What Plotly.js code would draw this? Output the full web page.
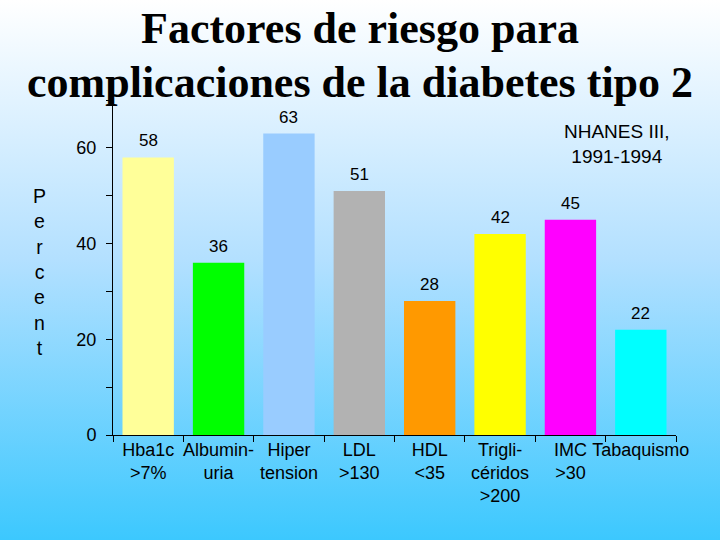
<!DOCTYPE html>
<html>
<head>
<meta charset="utf-8">
<script src="https://cdn.plot.ly/plotly-3.0.1.min.js"></script>
<style>
html, body { margin:0; padding:0; }
#chart { width:720px; height:540px; background: linear-gradient(to bottom, #ffffff 0%, #b3e0ff 48%, #3cc8fe 100%); }
</style>
</head>
<body>
<div id="chart"></div>
<script>
const categories = ["Hba1c >7%", "Albuminuria", "Hipertension", "LDL >130", "HDL <35", "Triglicéridos >200", "IMC >30", "Tabaquismo"];
const tickLabels = ["Hba1c<br>>7%", "Albumin-<br>uria", "Hiper<br>tension", "LDL<br>>130", "HDL<br><35", "Trigli-<br>céridos<br>>200", "IMC<br>>30", "Tabaquismo"];
const values = [58, 36, 63, 51, 28, 42, 45, 22];
const barColors = ["#FFFF99", "#00FF00", "#99CCFF", "#B2B2B2", "#FF9900", "#FFFF00", "#FF00FF", "#00FFFF"];
const yTickVals = [0, 10, 20, 30, 40, 50, 60, 70];
const yTickText = ["0", "", "20", "", "40", "", "60", ""];
const titleLine1 = "Factores de riesgo para";
const titleLine2 = "complicaciones de la diabetes tipo 2";
const yLabel = "Percent";
const noteText = "NHANES III,<br>1991-1994";

const trace = {
  type: "bar",
  x: categories,
  y: values,
  marker: { color: barColors, line: { width: 0 } },
  hoverinfo: "none"
};

const valueLabels = categories.map((c, i) => ({
  x: c, y: values[i], xref: "x", yref: "y",
  text: String(values[i]), showarrow: false,
  yanchor: "bottom", yshift: 5,
  font: { family: "Liberation Sans, Arial, sans-serif", size: 17, color: "#000" }
}));

const centerX = (360 - 113) / 563;

const annotations = valueLabels.concat([
  {
    xref: "paper", yref: "paper", x: centerX, y: 1, xanchor: "center", yanchor: "top",
    text: "<b>" + titleLine2 + "</b>", showarrow: false,
    yshift: 100 - 56,
    font: { family: "Liberation Serif, Times New Roman, serif", size: 44, color: "#000" }
  },
  {
    xref: "paper", yref: "paper", x: -0.13, y: 0.5, xanchor: "center", yanchor: "middle",
    text: yLabel.split("").join("<br>"), showarrow: false,
    yshift: -4,
    font: { family: "Liberation Sans, Arial, sans-serif", size: 19.5, color: "#000" }
  },
  {
    xref: "paper", yref: "paper", x: 0.895, y: 1, xanchor: "center", yanchor: "top",
    text: noteText, showarrow: false, yshift: -19,
    font: { family: "Liberation Sans, Arial, sans-serif", size: 19, color: "#000" }
  }
]);

const layout = {
  width: 720, height: 540,
  paper_bgcolor: "rgba(0,0,0,0)",
  plot_bgcolor: "rgba(0,0,0,0)",
  margin: { l: 113, r: 44, t: 100, b: 105 },
  bargap: 0.27,
  showlegend: false,
  title: {
    text: "<b>" + titleLine1 + "</b>",
    x: 0.5, xref: "container", xanchor: "center",
    y: 1, yref: "container", yanchor: "top", pad: { t: 12 },
    font: { family: "Liberation Serif, Times New Roman, serif", size: 44, color: "#000" }
  },
  xaxis: {
    type: "category",
    tickvals: categories, ticktext: tickLabels,
    showline: true, linecolor: "#000", linewidth: 1,
    ticks: "outside", ticklen: 6, tickcolor: "#000", tickson: "boundaries",
    ticklabelstandoff: -2,
    tickangle: 0, showgrid: false, zeroline: false,
    tickfont: { family: "Liberation Sans, Arial, sans-serif", size: 18, color: "#000" }
  },
  yaxis: {
    range: [0, 70],
    tickvals: yTickVals, ticktext: yTickText,
    showline: true, linecolor: "#000", linewidth: 1,
    ticks: "outside", ticklen: 6, tickcolor: "#000",
    ticklabelstandoff: 6,
    showgrid: false, zeroline: false,
    tickfont: { family: "Liberation Sans, Arial, sans-serif", size: 18, color: "#000" }
  },
  annotations: annotations
};

Plotly.newPlot("chart", [trace], layout, { displayModeBar: false, staticPlot: true });
</script>
</body>
</html>
